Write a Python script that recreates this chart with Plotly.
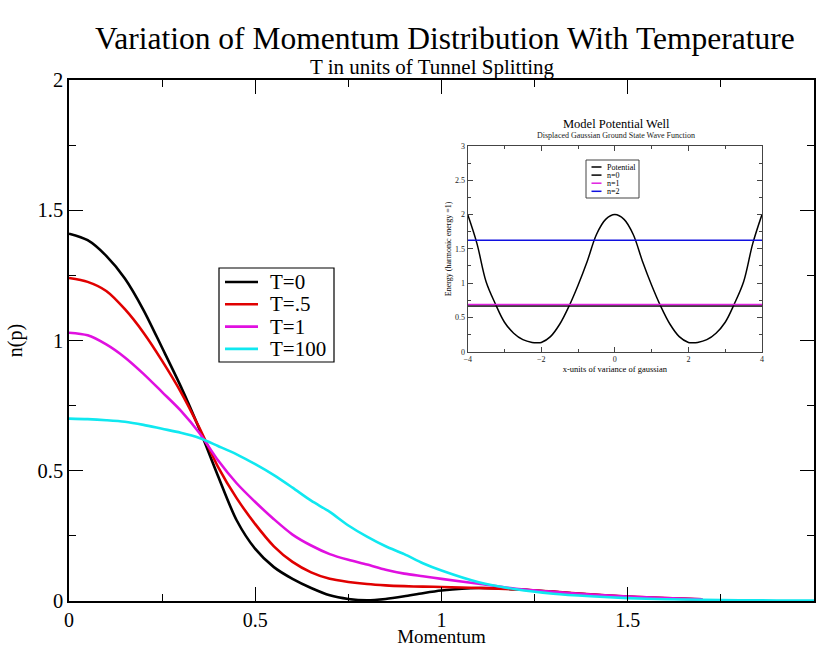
import plotly.graph_objects as go

# ---------------- data: main chart ----------------
momentum = [0, 0.05, 0.1, 0.15, 0.2, 0.25, 0.3, 0.35, 0.4, 0.45, 0.5, 0.55, 0.6,
            0.65, 0.7, 0.75, 0.8, 0.85, 0.9, 0.95, 1.0, 1.1, 1.2, 1.3, 1.4, 1.5,
            1.6, 1.7]
momentum_hi = momentum + [1.8, 1.9, 2.0]

n_T0 = [1.41, 1.385, 1.325, 1.238, 1.117, 0.972, 0.824, 0.66, 0.48, 0.31, 0.20,
        0.13, 0.085, 0.05, 0.022, 0.008, 0.003, 0.008, 0.018, 0.03, 0.04, 0.05,
        0.045, 0.035, 0.025, 0.016, 0.01, 0.006]
n_T05 = [1.24, 1.225, 1.19, 1.12, 1.03, 0.922, 0.803, 0.665, 0.515, 0.395, 0.295,
         0.21, 0.15, 0.11, 0.085, 0.073, 0.065, 0.06, 0.057, 0.055, 0.054, 0.05,
         0.045, 0.036, 0.026, 0.017, 0.011, 0.007]
n_T1 = [1.03, 1.02, 0.985, 0.935, 0.872, 0.802, 0.731, 0.645, 0.54, 0.452, 0.38,
        0.314, 0.255, 0.213, 0.18, 0.158, 0.14, 0.12, 0.105, 0.095, 0.085, 0.066,
        0.047, 0.035, 0.025, 0.017, 0.011, 0.007]
n_T100 = [0.70, 0.698, 0.694, 0.688, 0.676, 0.661, 0.646, 0.626, 0.595, 0.563,
          0.525, 0.483, 0.435, 0.385, 0.342, 0.29, 0.247, 0.21, 0.18, 0.145, 0.117,
          0.072, 0.045, 0.028, 0.018, 0.011, 0.007, 0.005, 0.003, 0.002, 0.002]

series_names = ["T=0", "T=.5", "T=1", "T=100"]
series_colors = ["#000000", "#e00000", "#e010e0", "#10e8f0"]

# ---------------- data: inset ----------------
x_pot = [-4, -3.75, -3.5, -3.25, -3.0, -2.75, -2.5, -2.25, -2.1, -2.0, -1.75,
         -1.5, -1.25, -1.0, -0.75, -0.5, -0.25, 0, 0.25, 0.5, 0.75, 1.0, 1.25,
         1.5, 1.75, 2.0, 2.1, 2.25, 2.5, 2.75, 3.0, 3.25, 3.5, 3.75, 4]
v_pot = [2.0, 1.58, 1.02, 0.70, 0.43, 0.27, 0.175, 0.135, 0.13, 0.135, 0.22,
         0.40, 0.66, 0.97, 1.32, 1.71, 1.93, 2.0, 1.93, 1.71, 1.32, 0.97, 0.66,
         0.40, 0.22, 0.135, 0.13, 0.135, 0.175, 0.27, 0.43, 0.70, 1.02, 1.58, 2.0]
level_x = [-4, 4]
level_names = ["n=0", "n=1", "n=2"]
level_values = [0.665, 0.69, 1.625]
level_colors = ["#000000", "#e020e0", "#1010e0"]
inset_names = ["Potential"] + level_names
inset_colors = ["#000000"] + level_colors

FONT = "Liberation Serif, Times New Roman, DejaVu Serif, serif"

# plot-area geometry (pixels) used only to place legend boxes / titles
PL, PT, PW, PH = 69, 80, 745, 521


def px_x(px):
    return (px - PL) / PW


def px_y(py):
    return (PT + PH - py) / PH


fig = go.Figure()

ys = [n_T0, n_T05, n_T1, n_T100]
for name, col, yv in zip(series_names, series_colors, ys):
    xv = momentum_hi if len(yv) == len(momentum_hi) else momentum
    fig.add_trace(go.Scatter(x=xv, y=yv, mode="lines", name=name,
                             line=dict(color=col, width=2.6, shape="spline", smoothing=0.8),
                             xaxis="x", yaxis="y", showlegend=False))

fig.add_trace(go.Scatter(x=x_pot, y=v_pot, mode="lines", name="Potential",
                         line=dict(color="black", width=1.5, shape="spline"),
                         xaxis="x2", yaxis="y2", showlegend=False))
for name, val, col in zip(level_names, level_values, level_colors):
    fig.add_trace(go.Scatter(x=level_x, y=[val, val], mode="lines", name=name,
                             line=dict(color=col, width=1.5),
                             xaxis="x2", yaxis="y2", showlegend=False))

# ---------------- hand-made legends (compact, like the original) ----------------
shapes = []
annotations = []

# main legend
shapes.append(dict(type="rect", xref="paper", yref="paper",
                   x0=px_x(219), x1=px_x(334), y0=px_y(362), y1=px_y(268),
                   line=dict(color="black", width=1.2), fillcolor="white", layer="above"))
for i, (name, col) in enumerate(zip(series_names, series_colors)):
    yy = px_y(282 + i * 22.3)
    shapes.append(dict(type="line", xref="paper", yref="paper",
                       x0=px_x(225), x1=px_x(258), y0=yy, y1=yy,
                       line=dict(color=col, width=2.6)))
    annotations.append(dict(text=name, xref="paper", yref="paper", x=px_x(268), y=yy,
                            xanchor="left", yanchor="middle", showarrow=False,
                            font=dict(family=FONT, size=21, color="black")))

# inset legend
shapes.append(dict(type="rect", xref="paper", yref="paper",
                   x0=px_x(586), x1=px_x(639), y0=px_y(198), y1=px_y(160),
                   line=dict(color="#444", width=1), fillcolor="white", layer="above"))
for i, (name, col) in enumerate(zip(inset_names, inset_colors)):
    yy = px_y(167 + i * 8.1)
    shapes.append(dict(type="line", xref="paper", yref="paper",
                       x0=px_x(591.5), x1=px_x(601.5), y0=yy, y1=yy,
                       line=dict(color=col, width=1.5)))
    annotations.append(dict(text=name, xref="paper", yref="paper", x=px_x(604.5), y=yy,
                            xanchor="left", yanchor="middle", showarrow=False,
                            font=dict(family=FONT, size=8, color="black")))

annotations += [
    dict(text="Variation of Momentum Distribution With Temperature",
         xref="paper", yref="paper", x=px_x(445), y=px_y(38.5), xanchor="center",
         yanchor="middle", showarrow=False, font=dict(family=FONT, size=31.5, color="black")),
    dict(text="T in units of Tunnel Splitting",
         xref="paper", yref="paper", x=px_x(432), y=px_y(67.5), xanchor="center",
         yanchor="middle", showarrow=False, font=dict(family=FONT, size=21, color="black")),
    dict(text="Model Potential Well",
         xref="paper", yref="paper", x=px_x(616), y=px_y(124), xanchor="center",
         yanchor="middle", showarrow=False, font=dict(family=FONT, size=12.5, color="black")),
    dict(text="Displaced Gaussian Ground State Wave Function",
         xref="paper", yref="paper", x=px_x(616), y=px_y(135.5), xanchor="center",
         yanchor="middle", showarrow=False, font=dict(family=FONT, size=8, color="#222")),
]

main_axis = dict(showline=True, linecolor="black", linewidth=1.5, mirror="ticks",
                 ticks="inside", ticklen=14, tickwidth=1.3, tickcolor="black",
                 showgrid=False, zeroline=False, automargin=False,
                 tickfont=dict(family=FONT, size=20.5, color="black"))
inset_axis = dict(showline=True, linecolor="#444", linewidth=1, mirror="ticks",
                  ticks="inside", ticklen=5, tickcolor="#444", showgrid=False,
                  zeroline=False, automargin=False,
                  tickfont=dict(family=FONT, size=8, color="#222"))

fig.update_layout(
    width=816, height=647,
    margin=dict(l=PL, r=816 - PL - PW, t=PT, b=647 - PT - PH),
    paper_bgcolor="white", plot_bgcolor="white",
    font=dict(family=FONT, color="black"),
    showlegend=False,
    xaxis=dict(main_axis, range=[0, 2], tick0=0, dtick=0.5,
               tickfont=dict(family=FONT, size=20, color="black"),
               minor=dict(dtick=0.25, ticklen=7, ticks="inside", tickcolor="black"),
               title=dict(text="Momentum", font=dict(family=FONT, size=19), standoff=0)),
    yaxis=dict(main_axis, range=[0, 2], tick0=0, dtick=0.5,
               minor=dict(dtick=0.25, ticklen=7, ticks="inside", tickcolor="black"),
               title=dict(text="n(p)", font=dict(family=FONT, size=20), standoff=10)),
    xaxis2=dict(inset_axis, domain=[px_x(467.7), px_x(762)], anchor="y2",
                range=[-4, 4], tick0=-4, dtick=2,
                minor=dict(dtick=1, ticklen=3, ticks="inside", tickcolor="#444"),
                title=dict(text="x-units of variance of gaussian",
                           font=dict(family=FONT, size=8.5), standoff=0)),
    yaxis2=dict(inset_axis, domain=[px_y(351.7), px_y(146)], anchor="x2",
                range=[0, 3], tick0=0, dtick=0.5,
                minor=dict(dtick=0.25, ticklen=3, ticks="inside", tickcolor="#444"),
                title=dict(text="Energy (harmonic energy =1)",
                           font=dict(family=FONT, size=8), standoff=2)),
    shapes=shapes,
    annotations=annotations,
)

fig.write_html("out.html",
               config={"displayModeBar": False},
               post_script="document.body.style.margin='0';"
                           "document.body.style.overflow='hidden';")
